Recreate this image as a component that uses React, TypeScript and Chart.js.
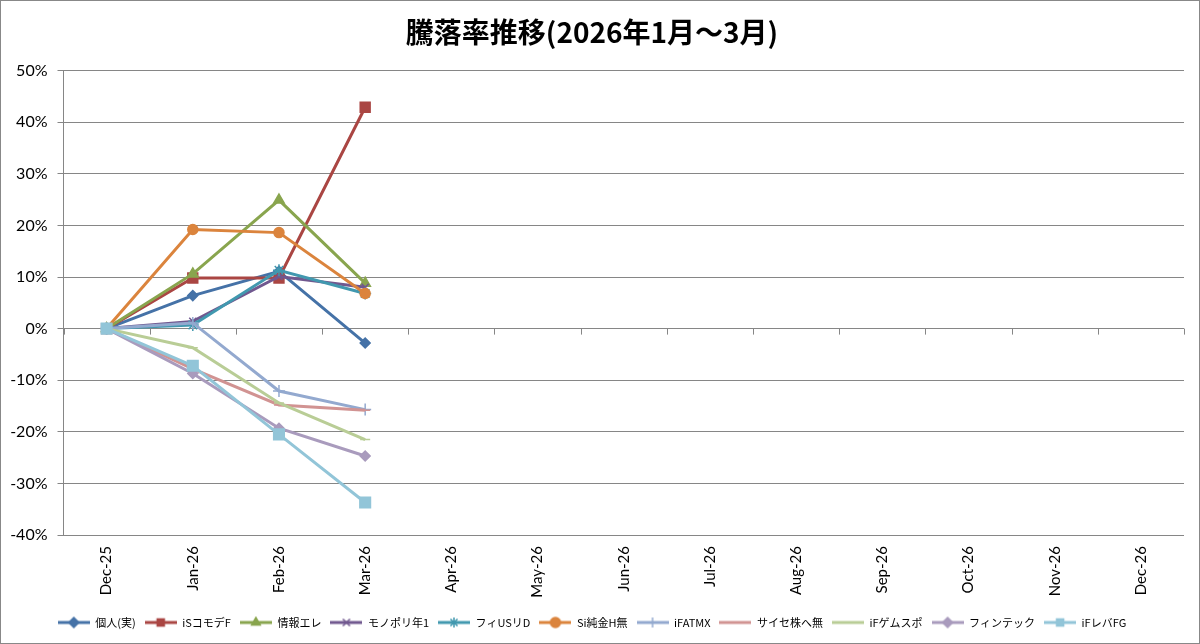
import { useRef, useEffect } from 'react'
import { Chart, registerables } from 'chart.js'
import { drawPoint } from 'chart.js/helpers'

Chart.register(...registerables)

const MONTHS = [
  'Dec-25', 'Jan-26', 'Feb-26', 'Mar-26', 'Apr-26', 'May-26', 'Jun-26',
  'Jul-26', 'Aug-26', 'Sep-26', 'Oct-26', 'Nov-26', 'Dec-26',
]

const Y_TICKS = [-40, -30, -20, -10, 0, 10, 20, 30, 40, 50]

const SERIES_NAMES = [
  '個人(実)', 'iSコモデF', '情報エレ', 'モノポリ年1', 'フィUSリD', 'Si純金H無',
  'iFATMX', 'サイセ株へ無', 'iFゲムスポ', 'フィンテック', 'iFレバFG',
]

// 騰落率(%)  Dec-25 .. Mar-26
const KOJIN = [0, 6.4, 11.1, -2.8]
const IS_COMMO = [0, 9.8, 9.8, 42.9]
const JOHO_ELE = [0, 10.6, 24.9, 8.8]
const MONOPOLY = [0, 1.4, 10.1, 8.0]
const FI_USRD = [0, 0.7, 11.3, 6.8]
const SI_GOLD = [0, 19.2, 18.6, 6.8]
const IF_ATMX = [0, 1.1, -12.1, -15.7]
const CYBER = [0, -7.8, -14.8, -15.8]
const IF_GAME = [0, -3.7, -14.4, -21.5]
const FINTECH = [0, -8.7, -19.3, -24.7]
const IF_LEVFG = [0, -7.2, -20.5, -33.7]

const SERIES_VALUES = [
  KOJIN, IS_COMMO, JOHO_ELE, MONOPOLY, FI_USRD, SI_GOLD,
  IF_ATMX, CYBER, IF_GAME, FINTECH, IF_LEVFG,
]

const COLORS = [
  '#4572A7', '#AA4643', '#89A54E', '#71588F', '#4198AF', '#DB843D',
  '#93A9CF', '#D19392', '#B9CD96', '#A99BBD', '#92C5D8',
]

const MARKERS: { style: string; radius: number }[] = [
  { style: 'rectRot', radius: 5 },
  { style: 'rect', radius: 7 },
  { style: 'triangle', radius: 6 },
  { style: 'crossRot', radius: 5 },
  { style: 'star', radius: 6 },
  { style: 'circle', radius: 5 },
  { style: 'cross', radius: 6 },
  { style: 'line', radius: 5 },
  { style: 'line', radius: 5 },
  { style: 'rectRot', radius: 5 },
  { style: 'rect', radius: 7.5 },
]

function legendIcon(color: string, style: string, radius: number) {
  const c = document.createElement('canvas')
  c.width = 32
  c.height = 14
  const ctx = c.getContext('2d')!
  ctx.strokeStyle = color
  ctx.fillStyle = color
  ctx.lineWidth = 3
  ctx.beginPath()
  ctx.moveTo(0, 7)
  ctx.lineTo(32, 7)
  ctx.stroke()
  ctx.lineWidth = 1.5
  drawPoint(ctx, { pointStyle: style, radius: Math.min(radius, 5), borderWidth: 1.5, rotation: 0 }, 16, 7)
  return c
}

const frame = {
  id: 'frame',
  beforeDatasetsDraw(chart: any) {
    const { ctx } = chart
    const x = chart.scales.x
    const y = chart.scales.y
    const y0 = y.getPixelForValue(0)
    const n = MONTHS.length
    ctx.save()
    ctx.strokeStyle = '#868686'
    ctx.lineWidth = 1
    for (let i = 0; i <= n; i++) {
      const px = Math.round(x.left + (x.width * i) / n) + 0.5
      ctx.beginPath()
      ctx.moveTo(px, y0)
      ctx.lineTo(px, y0 + 6)
      ctx.stroke()
    }
    ctx.restore()
  },
  afterDraw(chart: any) {
    const { ctx, width, height } = chart
    ctx.save()
    ctx.strokeStyle = '#888888'
    ctx.lineWidth = 1
    ctx.strokeRect(0.5, 0.5, width - 1, height - 1)
    ctx.restore()
  },
}

export default function App() {
  const canvasRef = useRef<HTMLCanvasElement>(null)
  const chartRef = useRef<Chart | null>(null)

  useEffect(() => {
    if (!canvasRef.current) return
    const ctx = canvasRef.current.getContext('2d')
    if (!ctx) return
    if (chartRef.current) chartRef.current.destroy()

    const n = SERIES_NAMES.length
    const icons = SERIES_NAMES.map((_, i) => legendIcon(COLORS[i], MARKERS[i].style, MARKERS[i].radius))

    chartRef.current = new Chart(ctx, {
      type: 'line',
      data: {
        labels: MONTHS,
        datasets: SERIES_NAMES.map((name, i) => ({
          label: name,
          data: SERIES_VALUES[i],
          borderColor: COLORS[i],
          backgroundColor: COLORS[i],
          borderWidth: 3,
          pointStyle: MARKERS[i].style as any,
          pointRadius: MARKERS[i].radius,
          pointBorderWidth: 1.5,
          pointBackgroundColor: COLORS[i],
          pointBorderColor: COLORS[i],
          tension: 0,
          fill: false,
          order: n - i,
        })),
      },
      options: {
        animation: false,
        responsive: true,
        maintainAspectRatio: false,
        layout: { padding: { left: 0, right: 16, top: 0, bottom: 6 } },
        plugins: {
          tooltip: { enabled: false },
          title: {
            display: true,
            text: '騰落率推移(2026年1月～3月)',
            color: '#000',
            font: { family: '"Noto Sans CJK JP", sans-serif', size: 28, weight: 'bold', lineHeight: 1.2 },
            padding: { top: 16, bottom: 21 },
          },
          legend: {
            position: 'bottom',
            labels: {
              usePointStyle: true,
              pointStyleWidth: 32,
              padding: 9,
              color: '#000',
              font: { family: '"Noto Sans CJK JP", sans-serif', size: 11 },
              generateLabels: () =>
                SERIES_NAMES.map((name, i) => ({
                  text: name,
                  datasetIndex: i,
                  pointStyle: icons[i],
                  fillStyle: COLORS[i],
                  strokeStyle: COLORS[i],
                  lineWidth: 0,
                  hidden: false,
                  fontColor: '#000',
                })),
            },
          },
        },
        scales: {
          x: {
            offset: true,
            grid: { display: false, drawTicks: false },
            border: { display: false },
            ticks: {
              autoSkip: false,
              minRotation: 90,
              maxRotation: 90,
              padding: 11,
              color: '#000',
              font: { family: 'Lato, sans-serif', size: 15 },
            },
            afterFit: (s: any) => {
              s.height = 73
            },
          },
          y: {
            min: -40,
            max: 50,
            afterBuildTicks: (s: any) => {
              s.ticks = Y_TICKS.map((v) => ({ value: v }))
            },
            grid: { color: '#868686', lineWidth: 1, tickLength: 6 },
            border: { display: true, color: '#868686', width: 1 },
            ticks: {
              padding: 10,
              color: '#000',
              font: { family: 'Lato, sans-serif', size: 16 },
              callback: (v: any) => `${v}%`,
            },
            afterFit: (s: any) => {
              s.width = 63.5
            },
          },
        },
      },
      plugins: [frame],
    })

    return () => {
      chartRef.current?.destroy()
    }
  }, [])

  return (
    <div style={{ position: 'absolute', left: 0, top: 0, width: 1200, height: 644, background: '#fff' }}>
      <canvas ref={canvasRef} />
    </div>
  )
}
